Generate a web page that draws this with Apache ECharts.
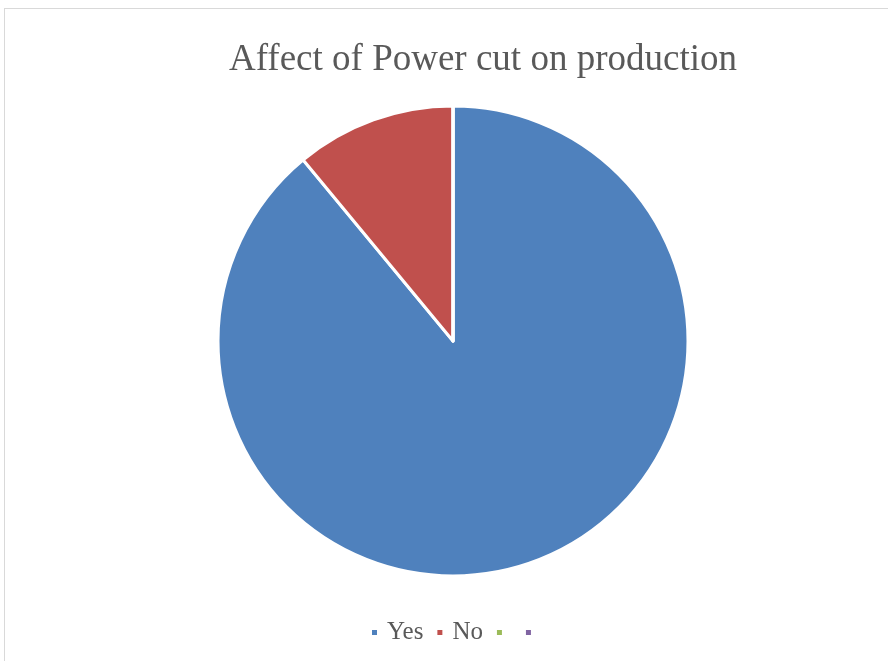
<!DOCTYPE html>
<html>
<head>
<meta charset="utf-8">
<script src="https://cdn.jsdelivr.net/npm/echarts@6/dist/echarts.min.js"></script>
<style>
  html, body { margin: 0; padding: 0; background: #fff; }
  #frame { position: absolute; left: 4px; top: 8px; width: 900px; height: 700px; border: 1px solid #d9d9d9; box-sizing: border-box; }
  #chart { position: absolute; left: 0; top: 0; width: 888px; height: 661px; }
</style>
</head>
<body>
<div id="frame"></div>
<div id="chart"></div>
<script>
// Survey answers: did power cuts affect production?
const categories = ['Yes', 'No', '\u200b', '\u200b\u200b'];
const values = [89, 11, 0, 0];
const colors = ['#4F81BD', '#C0504D', '#9BBB59', '#8064A2'];

const chart = echarts.init(document.getElementById('chart'));
chart.setOption({
  animation: false,
  title: {
    text: 'Affect of Power cut on production',
    left: 224,
    top: 37,
    textStyle: { fontFamily: 'Liberation Serif', fontSize: 37, fontWeight: 'normal', color: '#595959' }
  },
  legend: {
    top: 615,
    left: 365,
    icon: 'rect',
    itemWidth: 7,
    itemHeight: 7,
    itemGap: 12,
    data: categories,
    textStyle: { fontFamily: 'Liberation Serif', fontSize: 25, color: '#595959', padding: [0, 0, 0, 4] }
  },
  series: [{
    type: 'pie',
    center: [453, 341],
    radius: [0, 235],
    startAngle: 90,
    clockwise: true,
    label: { show: false },
    labelLine: { show: false },
    itemStyle: { borderColor: '#fff', borderWidth: 3 },
    data: categories.map((c, i) => ({ name: c, value: values[i], itemStyle: { color: colors[i] } }))
  }]
});
</script>
</body>
</html>
